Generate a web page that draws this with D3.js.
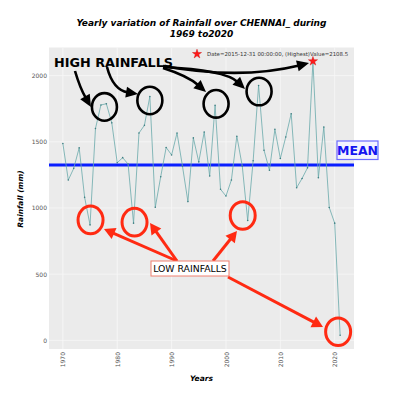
<!DOCTYPE html>
<html>
<head>
<meta charset="utf-8">
<script src="https://cdn.jsdelivr.net/npm/d3@7"></script>
<style>
  body { margin: 0; background: #fff; }
  svg text { font-family: "DejaVu Sans", sans-serif; }
</style>
</head>
<body>
<svg id="chart"></svg>
<script>
// yearly rainfall, one value per year (dated 31 Dec of each year)
const years = [1969, 1970, 1971, 1972, 1973, 1974, 1975, 1976, 1977, 1978,
               1979, 1980, 1981, 1982, 1983, 1984, 1985, 1986, 1987, 1988,
               1989, 1990, 1991, 1992, 1993, 1994, 1995, 1996, 1997, 1998,
               1999, 2000, 2001, 2002, 2003, 2004, 2005, 2006, 2007, 2008,
               2009, 2010, 2011, 2012, 2013, 2014, 2015, 2016, 2017, 2018,
               2019, 2020];
const rainfall = [1487, 1211, 1299, 1454, 1080, 872, 1600, 1778, 1787, 1643,
                  1341, 1380, 1331, 885, 1566, 1624, 1842, 1005, 1236, 1457,
                  1400, 1566, 1316, 1048, 1529, 1348, 1574, 1241, 1775, 1141,
                  1090, 1211, 1542, 1316, 905, 1356, 1925, 1436, 1285, 1594,
                  1374, 1536, 1712, 1153, 1223, 1303, 2108.5, 1228, 1612, 1003,
                  885, 38];
const meanValue = 1325;
const xTickYears = [1970, 1980, 1990, 2000, 2010, 2020];
const yTicks = [0, 500, 1000, 1500, 2000];
const titleLines = ['Yearly variation of Rainfall over CHENNAI_ during', '1969 to2020'];
const legendText = 'Date=2015-12-31 00:00:00, (Highest)Value=2108.5';

// annotations: circled years (offset of the hand drawn ring from the point)
const highMarks = [{year: 1976, dx: 3.5, dy: 2}, {year: 1985, dx: 0, dy: 4},
                   {year: 1997, dx: 1, dy: -1.5}, {year: 2005, dx: 0.5, dy: 6}];
const lowMarks = [{year: 1974, dx: 0.5, dy: -5}, {year: 1982, dx: 1, dy: -1},
                  {year: 2003, dx: -5, dy: -5}, {year: 2020, dx: -2, dy: -3.5}];

const width = 394, height = 394;
const plot = {left: 49, right: 354, top: 47.5, bottom: 349};

const data = years.map((yr, i) => ({date: new Date(yr, 11, 31), value: rainfall[i], year: yr}));

const svg = d3.select('#chart')
    .attr('width', width)
    .attr('height', height);

// scales with matplotlib-like 5% padding
const first = data[0].date, last = data[data.length - 1].date;
const span = last - first;
const x = d3.scaleTime()
    .domain([new Date(+first - span * 0.05), new Date(+last + span * 0.05)])
    .range([plot.left, plot.right]);
const vMin = d3.min(rainfall), vMax = d3.max(rainfall);
const vPad = (vMax - vMin) * 0.05;
const y = d3.scaleLinear()
    .domain([vMin - vPad, vMax + vPad])
    .range([plot.bottom, plot.top]);

// background + grid
svg.append('rect')
    .attr('x', plot.left).attr('y', plot.top)
    .attr('width', plot.right - plot.left).attr('height', plot.bottom - plot.top)
    .attr('fill', '#ebebeb');

const xTicks = xTickYears.map(yr => new Date(yr, 0, 1));
svg.append('g').selectAll('line')
    .data(xTicks)
    .join('line')
    .attr('x1', d => x(d)).attr('x2', d => x(d))
    .attr('y1', plot.top).attr('y2', plot.bottom)
    .attr('stroke', '#f8f8f8').attr('stroke-width', 0.8);
svg.append('g').selectAll('line')
    .data(yTicks)
    .join('line')
    .attr('x1', plot.left).attr('x2', plot.right)
    .attr('y1', d => y(d)).attr('y2', d => y(d))
    .attr('stroke', '#f8f8f8').attr('stroke-width', 0.8);

// axes
const xAxis = d3.axisBottom(x).tickValues(xTicks).tickSize(0).tickPadding(3)
    .tickFormat(d3.timeFormat('%Y'));
const xAxisG = svg.append('g')
    .attr('transform', `translate(0,${plot.bottom})`)
    .call(xAxis);
xAxisG.select('.domain').remove();
xAxisG.selectAll('text')
    .attr('font-family', 'DejaVu Sans')
    .attr('font-size', 6)
    .attr('fill', '#555')
    .attr('text-anchor', 'end')
    .attr('transform', 'rotate(-90)')
    .attr('x', -3)
    .attr('y', 0)
    .attr('dy', '0.35em');

const yAxis = d3.axisLeft(y).tickValues(yTicks).tickSize(0).tickPadding(2)
    .tickFormat(d3.format('d'));
const yAxisG = svg.append('g')
    .attr('transform', `translate(${plot.left},0)`)
    .call(yAxis);
yAxisG.select('.domain').remove();
yAxisG.selectAll('text')
    .attr('font-family', 'DejaVu Sans')
    .attr('font-size', 6)
    .attr('fill', '#555');

// titles
svg.append('g').selectAll('text')
    .data(titleLines)
    .join('text')
    .attr('x', (plot.left + plot.right) / 2)
    .attr('y', (d, i) => 26 + i * 10.5)
    .attr('text-anchor', 'middle')
    .attr('font-size', 9)
    .attr('font-weight', 'bold')
    .attr('font-style', 'italic')
    .text(d => d);

svg.append('text')
    .attr('x', (plot.left + plot.right) / 2)
    .attr('y', 381)
    .attr('text-anchor', 'middle')
    .attr('font-size', 7.5)
    .attr('font-weight', 'bold')
    .attr('font-style', 'italic')
    .text('Years');

svg.append('text')
    .attr('transform', `translate(23,199) rotate(-90)`)
    .attr('text-anchor', 'middle')
    .attr('font-size', 7.5)
    .attr('font-weight', 'bold')
    .attr('font-style', 'italic')
    .text('Rainfall (mm)');

// mean line
svg.append('line')
    .attr('x1', plot.left).attr('x2', plot.right)
    .attr('y1', y(meanValue)).attr('y2', y(meanValue))
    .attr('stroke', '#0a1eff').attr('stroke-width', 3);

// rainfall series
const line = d3.line().x(d => x(d.date)).y(d => y(d.value));
svg.append('path')
    .datum(data)
    .attr('d', line)
    .attr('fill', 'none')
    .attr('stroke', '#6aa9ab')
    .attr('stroke-width', 0.8);
svg.append('g').selectAll('circle')
    .data(data)
    .join('circle')
    .attr('cx', d => x(d.date)).attr('cy', d => y(d.value))
    .attr('r', 0.8)
    .attr('fill', '#3f7f82');

// highest point star + legend
const peak = data.reduce((a, b) => (b.value > a.value ? b : a));
const star = d3.symbol().type(d3.symbolStar).size(26);
svg.append('path')
    .attr('d', star())
    .attr('transform', `translate(${x(peak.date)},${y(peak.value)})`)
    .attr('fill', '#ff1a1a').attr('stroke', '#cc0000').attr('stroke-width', 0.4);
svg.append('path')
    .attr('d', star())
    .attr('transform', 'translate(197,54)')
    .attr('fill', '#ff1a1a').attr('stroke', '#cc0000').attr('stroke-width', 0.4);
svg.append('text')
    .attr('x', 207).attr('y', 56)
    .attr('font-size', 5.4)
    .attr('fill', '#333')
    .text(legendText);

// ---- hand-drawn style annotations ----
const byYear = new Map(data.map(d => [d.year, d]));
function ring(m, color, sw) {
    const d = byYear.get(m.year);
    svg.append('ellipse')
        .attr('cx', x(d.date) + m.dx).attr('cy', y(d.value) + m.dy)
        .attr('rx', 12.5).attr('ry', 13.8)
        .attr('fill', 'none').attr('stroke', color).attr('stroke-width', sw);
}
highMarks.forEach(m => ring(m, '#000', 2.6));
lowMarks.forEach(m => ring(m, '#ff2a12', 3));

function arrow(from, ctrl, to, color, sw, headLen, headW) {
    const dx = to[0] - ctrl[0], dy = to[1] - ctrl[1];
    const len = Math.hypot(dx, dy);
    const ux = dx / len, uy = dy / len;
    const base = [to[0] - ux * headLen * 0.85, to[1] - uy * headLen * 0.85];
    svg.append('path')
        .attr('d', `M${from[0]},${from[1]} Q${ctrl[0]},${ctrl[1]} ${base[0]},${base[1]}`)
        .attr('fill', 'none').attr('stroke', color).attr('stroke-width', sw);
    const bx = to[0] - ux * headLen, by = to[1] - uy * headLen;
    const px = -uy * headW / 2, py = ux * headW / 2;
    svg.append('path')
        .attr('d', `M${to[0]},${to[1]} L${bx + px},${by + py} L${bx - px},${by - py} Z`)
        .attr('fill', color);
}
const mid = (a, b) => [(a[0] + b[0]) / 2, (a[1] + b[1]) / 2];

// black arrows from HIGH RAINFALLS
arrow([75, 71], [80, 88], [91, 107], '#000', 2.6, 12, 11);
arrow([107, 67], [113, 90], [138, 94], '#000', 2.6, 12, 11);
arrow([163, 68], [188, 76], [206, 92], '#000', 2.6, 12, 11);
arrow([163, 67], [225, 70], [245, 89], '#000', 2.6, 12, 11);
arrow([163, 66], [240, 80], [309, 63], '#000', 2.6, 12, 11);

// red arrows from LOW RAINFALLS
[[[177, 261], [104, 229]], [[177, 261], [150, 223]],
 [[213, 261], [237, 231]], [[228, 277], [323, 327]]]
    .forEach(([a, b]) => arrow(a, mid(a, b), b, '#ff2a12', 3, 11, 12));

svg.append('text')
    .attr('x', 54).attr('y', 67)
    .attr('font-family', 'Liberation Sans, Arial, sans-serif')
    .attr('font-size', 12.8)
    .attr('font-weight', 'bold')
    .attr('fill', '#000')
    .text('HIGH RAINFALLS');

svg.append('rect')
    .attr('x', 151).attr('y', 261).attr('width', 78).attr('height', 15)
    .attr('fill', '#fff').attr('stroke', '#f08070').attr('stroke-width', 1);
svg.append('text')
    .attr('x', 190).attr('y', 272)
    .attr('text-anchor', 'middle')
    .attr('font-family', 'Liberation Sans, Arial, sans-serif')
    .attr('font-size', 9.3)
    .attr('fill', '#000')
    .text('LOW RAINFALLS');

svg.append('rect')
    .attr('x', 337).attr('y', 141).attr('width', 41).attr('height', 18.5)
    .attr('fill', '#f4f4ff').attr('stroke', '#6b6bff').attr('stroke-width', 1.2);
svg.append('text')
    .attr('x', 357.5).attr('y', 155)
    .attr('text-anchor', 'middle')
    .attr('font-family', 'Liberation Sans, Arial, sans-serif')
    .attr('font-size', 12.5)
    .attr('font-weight', 'bold')
    .attr('fill', '#1414f0')
    .text('MEAN');
</script>
</body>
</html>
